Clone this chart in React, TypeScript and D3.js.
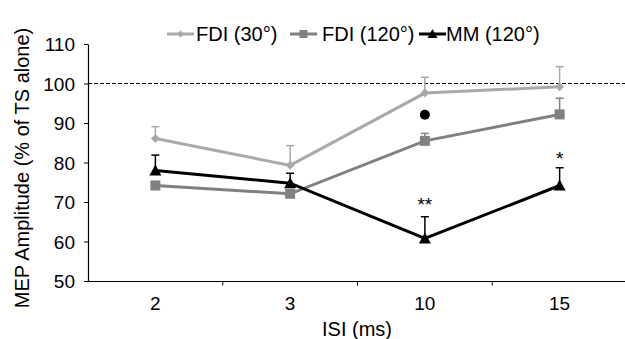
import React from "react";
import * as d3 from "d3";

const categories = ["2", "3", "10", "15"];
const seriesNames = ["FDI (30°)", "FDI (120°)", "MM (120°)"];
const fdi30 = [86.2, 79.4, 97.7, 99.3];
const fdi30Err = [3.0, 5.0, 4.0, 5.1];
const fdi120 = [74.3, 72.2, 85.6, 92.3];
const fdi120Err = [1.0, 0.8, 1.9, 4.1];
const mm120 = [78.1, 74.9, 60.9, 74.3];
const mm120Err = [3.9, 2.5, 5.5, 4.5];
const yTicks = [50, 60, 70, 80, 90, 100, 110];
const refLine = 100;
const sigDot = { cat: "10", value: 92.2 };
const sigStars = [
  { cat: "10", label: "**", value: 70.5 },
  { cat: "15", label: "*", value: 82.0 },
];

const W = 625;
const H = 339;
const font = "Liberation Sans, Arial, Helvetica, sans-serif";

const colors = ["#a9a9a9", "#808080", "#000000"];
const shapes = ["diamond", "square", "triangle"];

function Marker({ shape, x, y, color, size }: { shape: string; x: number; y: number; color: string; size: number }) {
  if (shape === "diamond") {
    const s = size / 2;
    return <path d={`M${x},${y - s}L${x + s},${y}L${x},${y + s}L${x - s},${y}Z`} fill={color} />;
  }
  if (shape === "square") {
    const s = size / 2;
    return <rect x={x - s} y={y - s} width={size} height={size} fill={color} />;
  }
  const s = size / 2;
  return <path d={`M${x},${y - s - 1}L${x + s + 1},${y + s}L${x - s - 1},${y + s}Z`} fill={color} />;
}

export default function App() {
  const x = d3.scaleBand<string>().domain(categories).range([88, 627]);
  const y = d3.scaleLinear().domain([50, 110]).range([281.5, 44.5]);
  const cx = (c: string) => (x(c) as number) + x.bandwidth() / 2;

  const series = [
    { vals: fdi30, errs: fdi30Err, size: 9 },
    { vals: fdi120, errs: fdi120Err, size: 10 },
    { vals: mm120, errs: mm120Err, size: 10 },
  ];

  const line = d3
    .line<number>()
    .x((_, i) => cx(categories[i]))
    .y((d) => y(d));

  const x0 = 88;
  const yBase = y(50);

  const legendItems = [
    { lx: 167, tx: 196 },
    { lx: 290, tx: 322 },
    { lx: 419, tx: 446 },
  ];

  return (
    <svg
      width={W}
      height={H}
      style={{ position: "absolute", left: 0, top: 0, background: "#fff" }}
      fontFamily={font}
    >
      <rect x={0} y={0} width={W} height={H} fill="#fff" />
      {/* reference line */}
      <line x1={x0} x2={W} y1={Math.round(y(refLine)) - 0.5} y2={Math.round(y(refLine)) - 0.5} stroke="#000" strokeWidth={1} strokeDasharray="4,2" />

      {/* y axis */}
      <line x1={x0 + 0.5} x2={x0 + 0.5} y1={y(110)} y2={yBase} stroke="#000" strokeWidth={1.2} />
      {yTicks.map((t) => (
        <g key={t}>
          <line x1={x0 - 4} x2={x0} y1={y(t)} y2={y(t)} stroke="#000" strokeWidth={1} />
          <text x={x0 - 13} y={y(t)} dy="0.35em" textAnchor="end" fontSize={19} fill="#000">
            {t}
          </text>
        </g>
      ))}

      {/* x axis */}
      <line x1={x0} x2={W} y1={yBase} y2={yBase} stroke="#000" strokeWidth={1.2} />
      {categories.map((c, i) =>
        i > 0 ? (
          <line key={"t" + c} x1={x(c) as number} x2={x(c) as number} y1={yBase} y2={yBase + 4} stroke="#000" strokeWidth={1} />
        ) : null
      )}
      {categories.map((c) => (
        <text key={"l" + c} x={cx(c)} y={310} textAnchor="middle" fontSize={19} fill="#000">
          {c}
        </text>
      ))}
      <text x={357} y={336} textAnchor="middle" fontSize={20} fill="#000">
        ISI (ms)
      </text>
      <text
        transform={`translate(29,168) rotate(-90)`}
        textAnchor="middle"
        fontSize={20}
        fill="#000"
      >
        MEP Amplitude (% of TS alone)
      </text>

      {/* error bars */}
      {series.map((s, si) =>
        s.vals.map((v, i) => {
          const px = cx(categories[i]);
          const top = y(v + s.errs[i]);
          return (
            <g key={`e${si}-${i}`} stroke={colors[si]} strokeWidth={1.5}>
              <line x1={px} x2={px} y1={y(v)} y2={top} />
              <line x1={px - 4} x2={px + 4} y1={top} y2={top} />
            </g>
          );
        })
      )}

      {/* lines */}
      {series.map((s, si) => (
        <path key={`l${si}`} d={line(s.vals) as string} fill="none" stroke={colors[si]} strokeWidth={3} />
      ))}
      {/* markers */}
      {series.map((s, si) =>
        s.vals.map((v, i) => (
          <Marker key={`m${si}-${i}`} shape={shapes[si]} x={cx(categories[i])} y={y(v)} color={colors[si]} size={s.size} />
        ))
      )}

      {/* significance */}
      <circle cx={cx(sigDot.cat)} cy={y(sigDot.value)} r={5} fill="#000" />
      {sigStars.map((s) => (
        <text key={s.cat} x={cx(s.cat)} y={y(s.value) + 10} textAnchor="middle" fontSize={19} fill="#000">
          {s.label}
        </text>
      ))}

      {/* legend */}
      {seriesNames.map((n, i) => {
        const it = legendItems[i];
        const ly = 34;
        return (
          <g key={n}>
            <line x1={it.lx} x2={it.lx + 27} y1={ly} y2={ly} stroke={colors[i]} strokeWidth={3} />
            <Marker shape={shapes[i]} x={it.lx + 13.5} y={ly} color={colors[i]} size={i === 0 ? 7 : 8} />
            <text x={it.tx} y={ly} dy="0.35em" fontSize={20} fill="#000">
              {n}
            </text>
          </g>
        );
      })}
    </svg>
  );
}
